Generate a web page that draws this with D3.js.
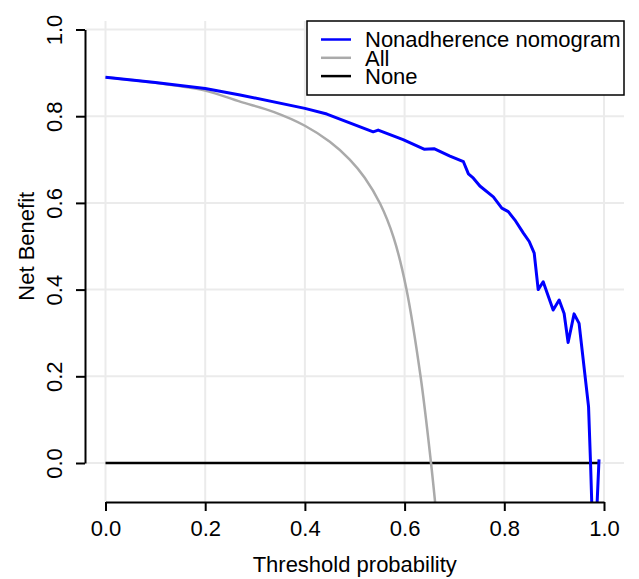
<!DOCTYPE html>
<html>
<head>
<meta charset="utf-8">
<script src="https://cdn.jsdelivr.net/npm/d3@7"></script>
<style>
  body { margin: 0; background: #fff; }
  text { font-family: "Liberation Sans", Arial, sans-serif; fill: #000; }
</style>
</head>
<body>
<svg id="dca" width="639" height="579"></svg>
<script>
// threshold probabilities and net benefit
var nomoX = [0, 0.10, 0.20, 0.27, 0.40, 0.444, 0.537, 0.547, 0.597, 0.639, 0.659, 0.691, 0.718, 0.728, 0.738,
  0.751, 0.778, 0.795, 0.808, 0.821, 0.838, 0.850, 0.860, 0.868, 0.878, 0.898, 0.910, 0.920, 0.928, 0.940,
  0.950, 0.969, 0.973, 0.977, 0.984, 0.990];
var nomoY = [0.890, 0.878, 0.864, 0.849, 0.818, 0.805, 0.764, 0.768, 0.746, 0.724, 0.725, 0.708, 0.695, 0.667, 0.657,
  0.639, 0.614, 0.588, 0.580, 0.561, 0.531, 0.511, 0.484, 0.400, 0.418, 0.353, 0.376, 0.345, 0.278, 0.344,
  0.322, 0.130, 0.0, -0.15, -0.15, 0.0085];

var allX = [0, 0.10, 0.20, 0.27, 0.337, 0.40, 0.45, 0.49, 0.52, 0.551, 0.578, 0.603, 0.632, 0.653, 0.662];
var allY = [0.890, 0.877, 0.859, 0.8335, 0.810, 0.778, 0.741, 0.700, 0.658, 0.598, 0.520, 0.405, 0.200, 0.0, -0.10];

var noneX = [0, 0.99];
var noneY = [0, 0];

var ticks = [0, 0.2, 0.4, 0.6, 0.8, 1.0];
var legendNames = ["Nonadherence nomogram", "All", "None"];
var legendColors = ["#0000ff", "#aaaaaa", "#000000"];

var svg = d3.select("#dca"),
  plotLeft = 85, plotRight = 624, plotTop = 21, plotBottom = 502;

var x = d3.scaleLinear().domain([0, 1]).range([105.5, 604]),
  y = d3.scaleLinear().domain([0, 1]).range([463, 29.5]);

svg.append("clipPath").attr("id", "plotclip")
  .append("rect").attr("x", plotLeft).attr("y", plotTop)
  .attr("width", plotRight - plotLeft).attr("height", plotBottom - plotTop);

// grid
var grid = svg.append("g").attr("stroke", "#ebebeb").attr("stroke-width", 2);
grid.selectAll(".gx").data(ticks).enter().append("line")
  .attr("x1", d => x(d)).attr("x2", d => x(d))
  .attr("y1", plotTop).attr("y2", plotBottom);
grid.selectAll(".gy").data(ticks).enter().append("line")
  .attr("x1", plotLeft).attr("x2", plotRight)
  .attr("y1", d => y(d)).attr("y2", d => y(d));

function series(xs, ys) {
  return xs.map(function (v, i) { return [v, ys[i]]; });
}

var plot = svg.append("g").attr("clip-path", "url(#plotclip)");

var lineStraight = d3.line().x(d => x(d[0])).y(d => y(d[1]));
var lineSmooth = d3.line().x(d => x(d[0])).y(d => y(d[1])).curve(d3.curveCatmullRom.alpha(0.5));

plot.append("path").datum(series(noneX, noneY))
  .attr("d", lineStraight).attr("fill", "none")
  .attr("stroke", legendColors[2]).attr("stroke-width", 2.5);

plot.append("path").datum(series(allX, allY))
  .attr("d", lineSmooth).attr("fill", "none")
  .attr("stroke", legendColors[1]).attr("stroke-width", 2.5);

plot.append("path").datum(series(nomoX, nomoY))
  .attr("d", lineStraight).attr("fill", "none")
  .attr("stroke", legendColors[0]).attr("stroke-width", 3)
  .attr("stroke-linejoin", "round");

// axes
var xAxis = svg.append("g")
  .attr("transform", "translate(0," + plotBottom + ")")
  .call(d3.axisBottom(x).tickValues(ticks).tickFormat(d3.format(".1f")).tickSize(9).tickSizeOuter(0));
xAxis.select(".domain").attr("stroke-width", 2);
xAxis.selectAll(".tick line").attr("stroke-width", 2);
xAxis.selectAll("text").attr("y", 34).attr("dy", null)
  .style("font-size", "22px").attr("fill", "#000");

var yAxis = svg.append("g")
  .attr("transform", "translate(" + plotLeft + ",0)")
  .call(d3.axisLeft(y).tickValues(ticks).tickFormat(d3.format(".1f")).tickSize(9).tickSizeOuter(0));
yAxis.select(".domain").attr("stroke-width", 2);
yAxis.selectAll(".tick line").attr("stroke-width", 2);
yAxis.selectAll("text")
  .attr("x", null).attr("dy", null)
  .attr("text-anchor", "middle")
  .attr("transform", "translate(-23,0) rotate(-90)")
  .style("font-size", "22px").attr("fill", "#000");
xAxis.attr("font-family", null).attr("font-size", null);
yAxis.attr("font-family", null).attr("font-size", null);

svg.append("text")
  .attr("x", (x(0) + x(1)) / 2).attr("y", 572)
  .attr("text-anchor", "middle").style("font-size", "22px")
  .text("Threshold probability");

svg.append("text")
  .attr("transform", "translate(34," + (y(0) + y(1)) / 2 + ") rotate(-90)")
  .attr("text-anchor", "middle").style("font-size", "22px")
  .text("Net Benefit");

// legend
var legend = svg.append("g");
legend.append("rect")
  .attr("x", 307).attr("y", plotTop).attr("width", plotRight - 307).attr("height", 74)
  .attr("fill", "#fff").attr("stroke", "#000").attr("stroke-width", 1.5);
var items = legend.selectAll(".item").data(legendNames).enter().append("g")
  .attr("transform", (d, i) => "translate(0," + (39.5 + i * 18.3) + ")");
items.append("line")
  .attr("x1", 321).attr("x2", 351).attr("y1", 0).attr("y2", 0)
  .attr("stroke", (d, i) => legendColors[i]).attr("stroke-width", 2.5);
items.append("text")
  .attr("x", 365).attr("y", 0).attr("dy", "0.36em")
  .style("font-size", "22px")
  .text(d => d);
</script>
</body>
</html>
